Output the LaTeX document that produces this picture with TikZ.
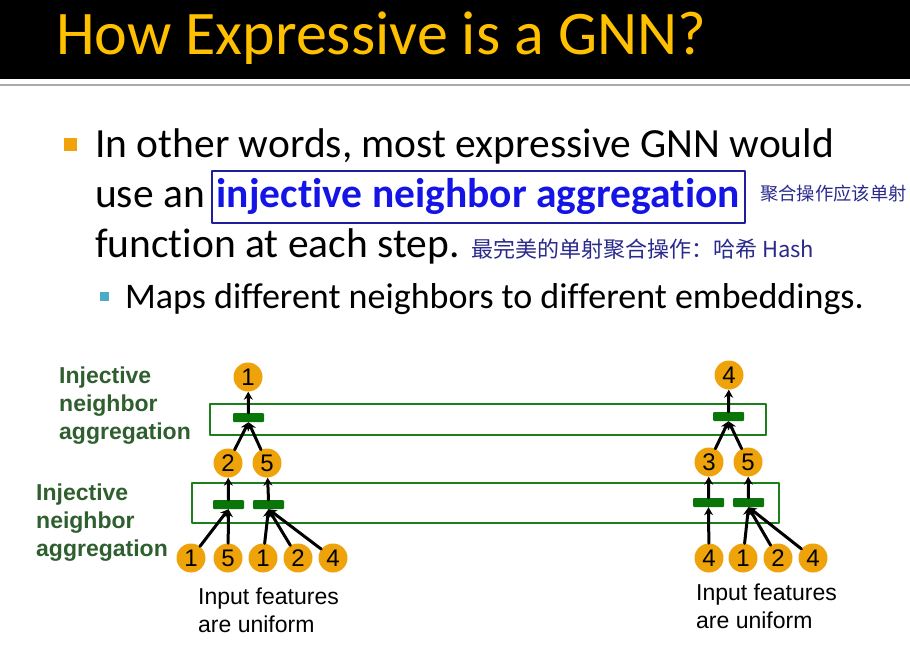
\documentclass[tikz,border=0pt]{standalone}
\usepackage{fontspec}
\setmainfont{Carlito}[Ligatures={NoCommon}]
\newfontfamily\arialfont{Liberation Sans}
\newfontfamily\cjkfont{Noto Sans CJK SC}
\usetikzlibrary{arrows.meta,positioning}
\definecolor{gnnGold}{HTML}{FFC000}
\definecolor{gnnRule}{HTML}{AAAAAA}
\definecolor{gnnBulletOrange}{HTML}{F0A30A}
\definecolor{gnnBulletBlue}{HTML}{4BACC6}
\definecolor{gnnKey}{HTML}{1414E6}
\definecolor{gnnKeyFrame}{HTML}{1F1F9E}
\definecolor{gnnInk}{HTML}{2A2A8C}
\definecolor{gnnOrange}{HTML}{EFA30A}
\definecolor{gnnGreen}{HTML}{1C7F1C}
\definecolor{gnnBar}{HTML}{0A760A}
\definecolor{gnnLabel}{HTML}{2F5F2F}
\tikzset{
  title text/.style={inner sep=0pt, text=gnnGold, font=\fontsize{62}{62}\selectfont},
  body text/.style={inner sep=0pt, font=\fontsize{41.5}{41.5}\selectfont},
  sub text/.style={inner sep=0pt, font=\fontsize{36}{36}\selectfont},
  note text/.style={inner sep=0pt, text=gnnInk, font=\cjkfont\fontsize{22}{22}\selectfont},
  keybox/.style={draw=gnnKeyFrame, line width=1.5pt, inner ysep=0pt, inner xsep=5pt,
    text height=36pt, text depth=16pt, text=gnnKey, font=\bfseries\fontsize{41.5}{41.5}\selectfont},
  feat/.style={circle, fill=gnnOrange, inner sep=0pt, minimum size=29pt,
    font=\arialfont\fontsize{24}{24}\selectfont},
  aggbar/.style={rectangle, fill=gnnBar, minimum width=31pt, minimum height=9pt,
    inner sep=0pt, rounded corners=1pt},
  layerbox/.style={draw=gnnGreen, line width=2.2pt, inner sep=0pt, anchor=north west},
  layer label/.style={inner sep=0pt, anchor=north west, align=left, text=gnnLabel,
    font=\arialfont\bfseries\fontsize{23}{28}\selectfont},
  caption text/.style={inner sep=0pt, anchor=north west, align=left,
    font=\arialfont\fontsize{23}{28}\selectfont},
  msg/.style={black, line width=3pt, -{Stealth[length=8pt,width=9pt]}},
}
\begin{document}
\begin{tikzpicture}[x=1pt, y=-1pt, line cap=round, line join=round]
  \useasboundingbox (0,0) rectangle (910,648);

  % ===== Title bar =====
  \fill[black] (0,0) rectangle (910,79);
  \draw[gnnRule, line width=1.5pt] (0,85) -- (910,85);
  \node[title text, anchor=base west] (title) at (56,54) {How Expressive is a GNN?};

  % ===== Bullet text =====
  \fill[gnnBulletOrange] (64,138) rectangle (77,151);
  \node[body text, anchor=base west] (line1) at (95,157) {In other words, most expressive GNN would};
  \node[body text, anchor=base west] (line2) at (95,207) {use an};
  \node[keybox, anchor=base west] (key) at (211,207) {injective neighbor aggregation};
  \node[body text, anchor=base west] (line3) at (95,257) {function at each step.};
  \node[note text, anchor=base west] (noteA) at (471,257) {最完美的单射聚合操作：哈希 Hash};
  \node[note text, anchor=base west, font=\cjkfont\fontsize{18.3}{18.3}\selectfont] (noteB) at (760,200) {聚合操作应该单射};
  \fill[gnnBulletBlue] (100,292) rectangle (109,301);
  \node[sub text, anchor=base west] (line4) at (125,308) {Maps different neighbors to different embeddings.};

  % ===== Aggregation layers =====
  \node[layerbox, minimum width=556pt, minimum height=31pt] (boxTop) at (209,403) {};
  \node[layerbox, minimum width=587pt, minimum height=40pt] (boxLow) at (191,482) {};
  \node[layer label] (labTop) at (59,367) {Injective\\neighbor\\aggregation};
  \node[layer label] (labLow) at (36,484) {Injective\\neighbor\\aggregation};

  % ===== Left computation graph =====
  \node[feat] (La) at (248,377) {1};
  \node[aggbar] (Lbar) at (248.5,417.5) {};
  \node[feat] (Lb) at (228,463) {2};
  \node[feat] (Lc) at (267,463) {5};
  \node[aggbar] (LbarB) at (228.5,504.5) {};
  \node[aggbar] (LbarC) at (268.5,504.5) {};
  \node[feat] (L1) at (191,558) {1};
  \node[feat] (L2) at (228,558) {5};
  \node[feat] (L3) at (263,558) {1};
  \node[feat] (L4) at (298,558) {2};
  \node[feat] (L5) at (333,558) {4};
  \node[caption text] (capL) at (198,588) {Input features\\are uniform};

  \draw[msg] (Lbar.north) -- (La);
  \draw[msg] (Lb) -- (Lbar.south);
  \draw[msg] (Lc) -- (Lbar.south);
  \draw[msg] (LbarB.north) -- (Lb);
  \draw[msg] (LbarC.north) -- (Lc);
  \draw[msg] (L1) -- (LbarB.south);
  \draw[msg] (L2) -- (LbarB.south);
  \foreach \n in {L3,L4,L5}
    \draw[msg] (\n) -- (LbarC.south);

  % ===== Right computation graph =====
  \node[feat] (Ra) at (729,375) {4};
  \node[aggbar] (Rbar) at (728.5,416.5) {};
  \node[feat] (Rb) at (709,462) {3};
  \node[feat] (Rc) at (748,462) {5};
  \node[aggbar] (RbarB) at (708.5,502.5) {};
  \node[aggbar] (RbarC) at (748.5,502.5) {};
  \node[feat] (R1) at (709,558) {4};
  \node[feat] (R2) at (743,558) {1};
  \node[feat] (R3) at (778,558) {2};
  \node[feat] (R4) at (813,558) {4};
  \node[caption text] (capR) at (696,584) {Input features\\are uniform};

  \draw[msg] (Rbar.north) -- (Ra);
  \draw[msg] (Rb) -- (Rbar.south);
  \draw[msg] (Rc) -- (Rbar.south);
  \draw[msg] (RbarB.north) -- (Rb);
  \draw[msg] (RbarC.north) -- (Rc);
  \draw[msg] (R1) -- (RbarB.south);
  \foreach \n in {R2,R3,R4}
    \draw[msg] (\n) -- (RbarC.south);
\end{tikzpicture}
\end{document}
